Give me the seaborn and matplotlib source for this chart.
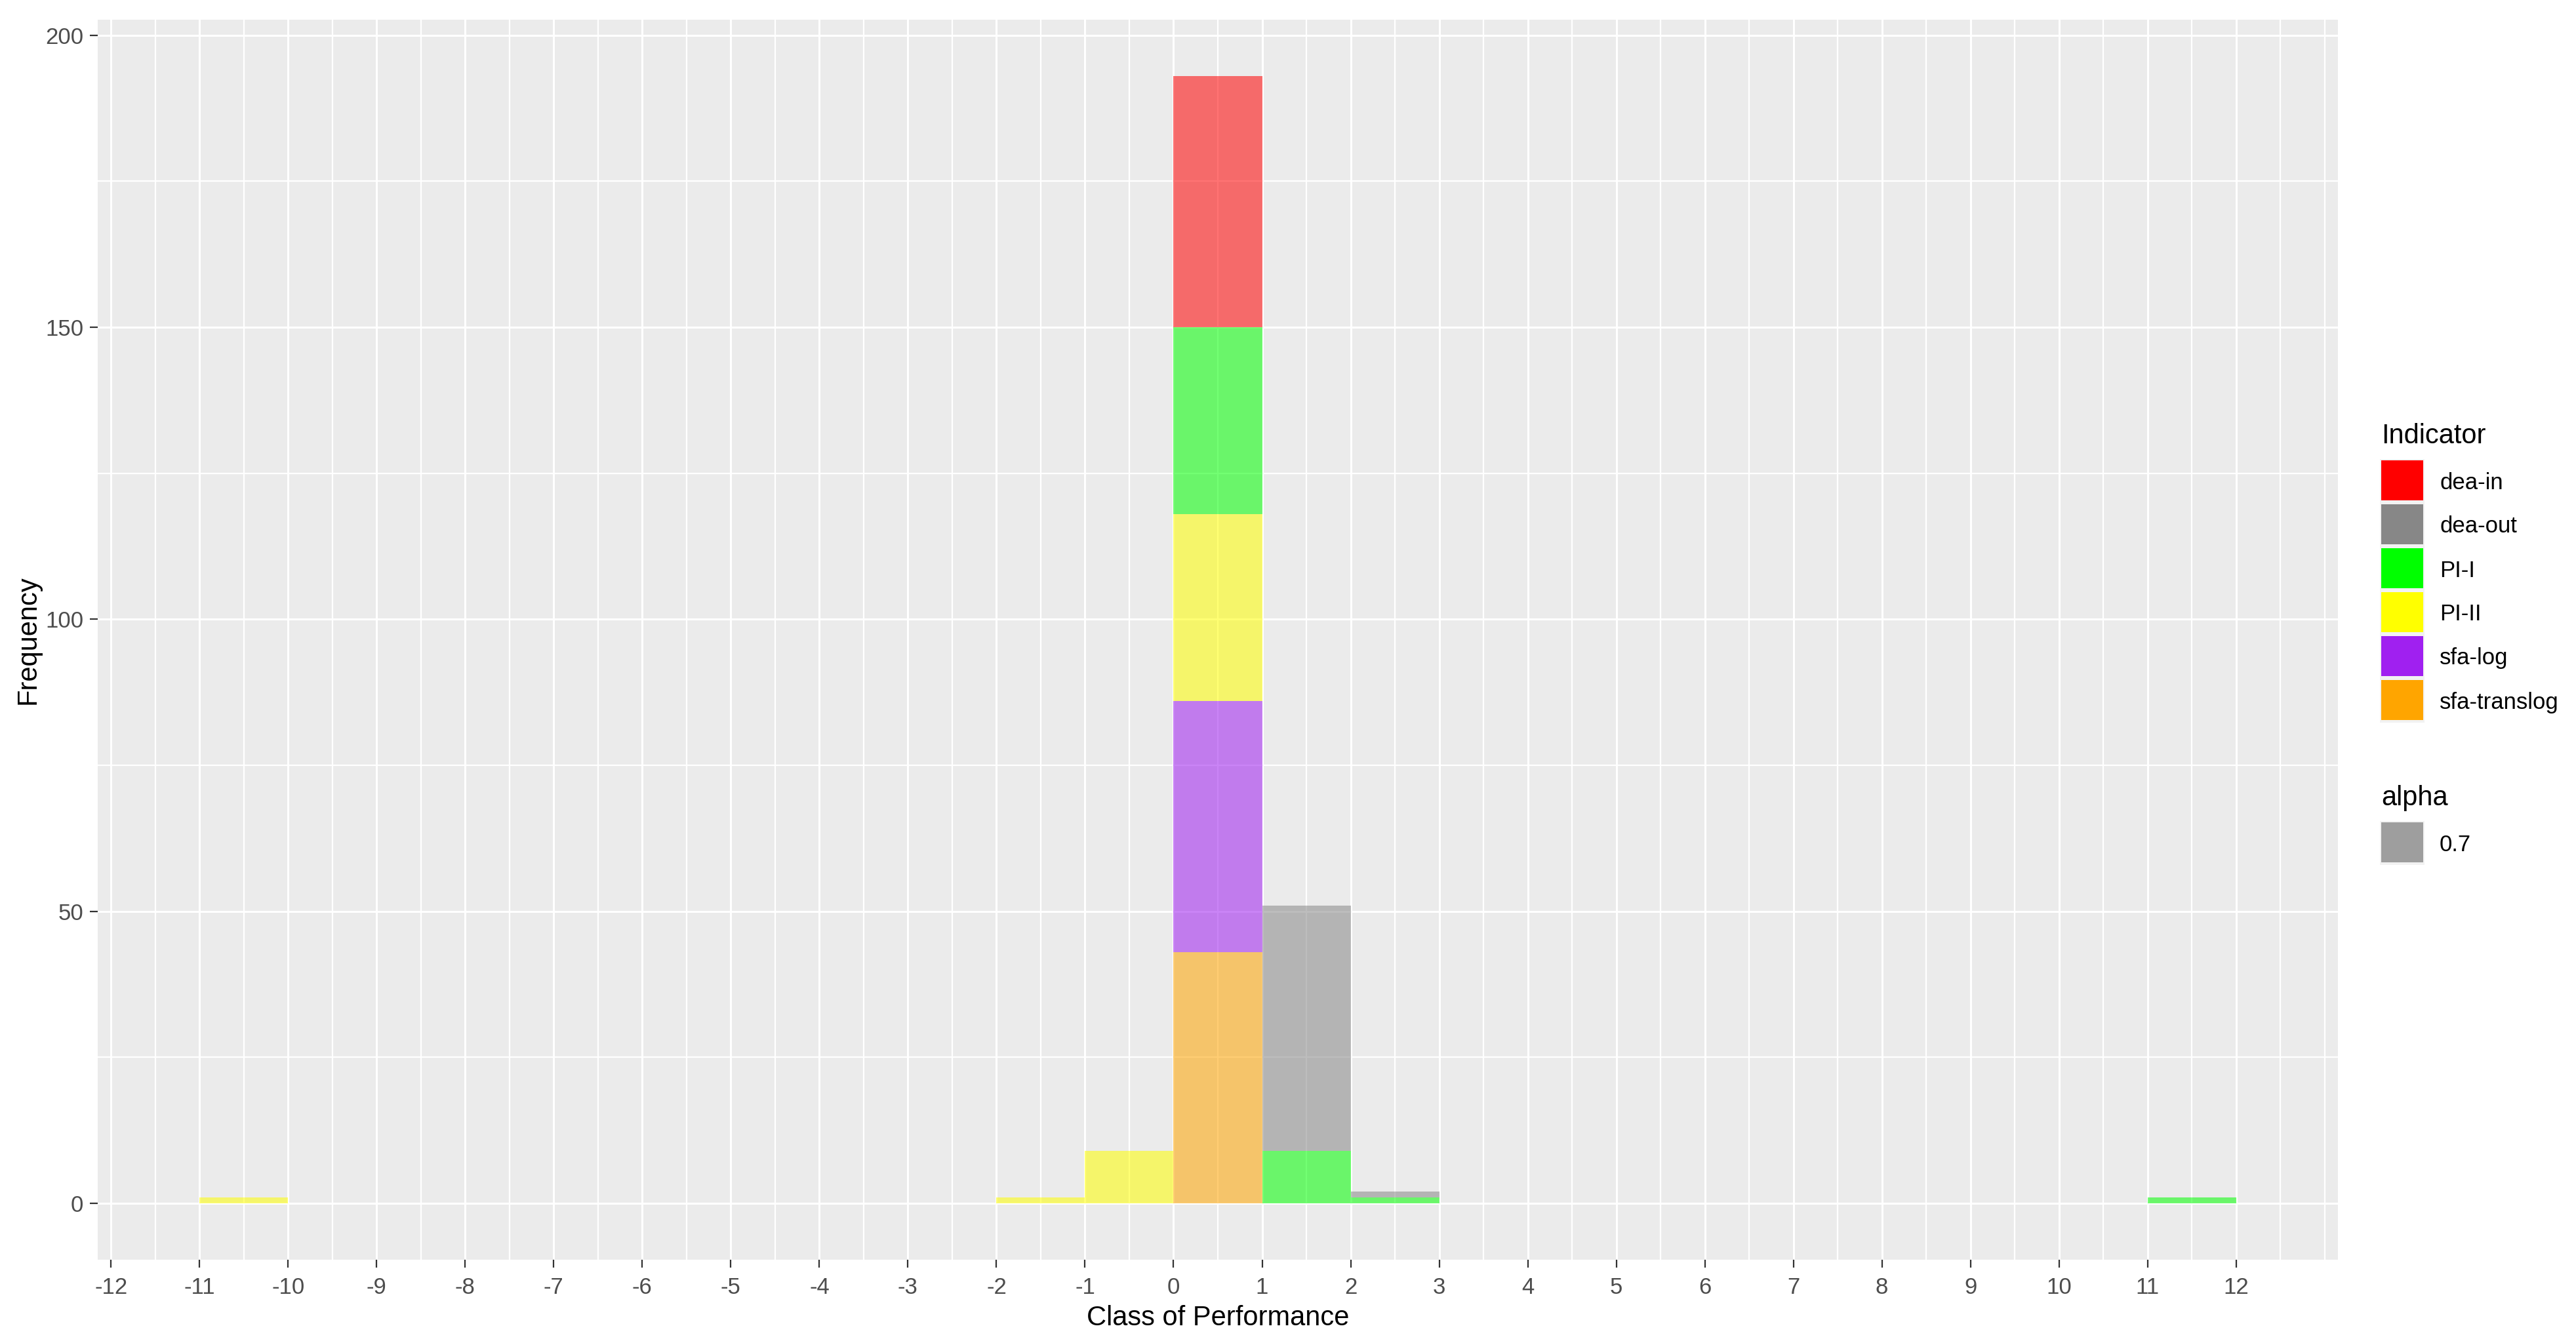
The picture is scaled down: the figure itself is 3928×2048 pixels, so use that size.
import numpy as np
import pandas as pd
import matplotlib
matplotlib.use("Agg")
import matplotlib.pyplot as plt
import seaborn as sns
from matplotlib.patches import Rectangle

# ---- data (left edge of each class bin, and counts) ----
indicators = ["dea-in", "dea-out", "PI-I", "PI-II", "sfa-log", "sfa-translog"]
colors = ["#FF0000", "#878787", "#00FF00", "#FFFF00", "#A020F0", "#FFA500"]

dea_in_class = [0]
dea_in_count = [43]
dea_out_class = [1, 2]
dea_out_count = [42, 1]
pi_i_class = [0, 1, 2, 11]
pi_i_count = [32, 9, 1, 1]
pi_ii_class = [-11, -2, -1, 0]
pi_ii_count = [1, 1, 9, 32]
sfa_log_class = [0]
sfa_log_count = [43]
sfa_translog_class = [0]
sfa_translog_count = [43]

x_ticks = list(range(-12, 13))
y_ticks = [0, 50, 100, 150, 200]

series = {
    "dea-in": (dea_in_class, dea_in_count),
    "dea-out": (dea_out_class, dea_out_count),
    "PI-I": (pi_i_class, pi_i_count),
    "PI-II": (pi_ii_class, pi_ii_count),
    "sfa-log": (sfa_log_class, sfa_log_count),
    "sfa-translog": (sfa_translog_class, sfa_translog_count),
}
rows = []
for name, (cls, cnt) in series.items():
    for c, n in zip(cls, cnt):
        rows.append({"Indicator": name, "value": c + 0.5, "count": n})
df = pd.DataFrame(rows)

W, H, DPI = 3928, 2048, 200
plt.rcParams["font.family"] = ["Liberation Sans", "DejaVu Sans"]
fig = plt.figure(figsize=(W / DPI, H / DPI), dpi=DPI)
ax = fig.add_axes([149 / W, 1 - 1921 / H, (3565 - 149) / W, (1921 - 30) / H])
ax.set_facecolor("#EBEBEB")

sns.histplot(data=df, x="value", weights="count", hue="Indicator",
             hue_order=indicators, palette=colors, multiple="stack",
             binwidth=1, binrange=(-11, 12), alpha=0.55, linewidth=0,
             ax=ax, legend=False)

ax.set_xlim(-12.15, 13.15)
ax.set_ylim(-9.65, 202.65)
ax.set_xticks(x_ticks)
ax.set_xticklabels([str(t) for t in x_ticks])
ax.set_xticks(np.arange(-12, 13.5, 0.5), minor=True)
ax.set_yticks(y_ticks)
ax.set_yticklabels([str(t) for t in y_ticks])
ax.set_yticks([25, 75, 125, 175], minor=True)
ax.grid(which="major", color="white", linewidth=1.1)
ax.grid(which="minor", color="white", linewidth=0.8)
ax.set_axisbelow(True)
for s in ax.spines.values():
    s.set_visible(False)
ax.tick_params(which="major", length=4.2, width=0.8, color="#333333",
               labelsize=12.5, labelcolor="#4D4D4D")
ax.tick_params(axis="x", which="major", pad=5.2)
ax.tick_params(axis="y", which="major", pad=3.6)
ax.tick_params(which="minor", length=0)
ax.set_xlabel("Class of Performance", fontsize=15, color="black", labelpad=3.5)
ax.set_ylabel("Frequency", fontsize=15, color="black", labelpad=2.5)


# ---- legends (drawn in figure pixel space) ----
def fx(px):
    return px / W


def fy(py):
    return 1 - py / H


def draw_legend(title, title_base, first_top, labels, fills, alpha=1.0):
    fig.text(fx(3631), fy(title_base), title, fontsize=15, ha="left",
             va="baseline", color="black")
    pitch, kw, kh = 67, 64, 61
    for i, (lab, col) in enumerate(zip(labels, fills)):
        top = first_top + i * pitch
        fig.add_artist(Rectangle((fx(3629), fy(top - 2 + 67)), 68 / W, 67 / H,
                                 transform=fig.transFigure, facecolor="#F2F2F2",
                                 edgecolor="none", zorder=1))
        fig.add_artist(Rectangle((fx(3631), fy(top + kh)), kw / W, kh / H,
                                 transform=fig.transFigure, facecolor=col,
                                 alpha=alpha, edgecolor="none", zorder=2))
        fig.text(fx(3720), fy(top + kh / 2), lab, fontsize=12.5, ha="left",
                 va="center_baseline", color="black")


draw_legend("Indicator", 676, 702, indicators, colors)
draw_legend("alpha", 1228, 1254, ["0.7"], ["#595959"], alpha=0.55)

fig.savefig("out.png", dpi=DPI)
